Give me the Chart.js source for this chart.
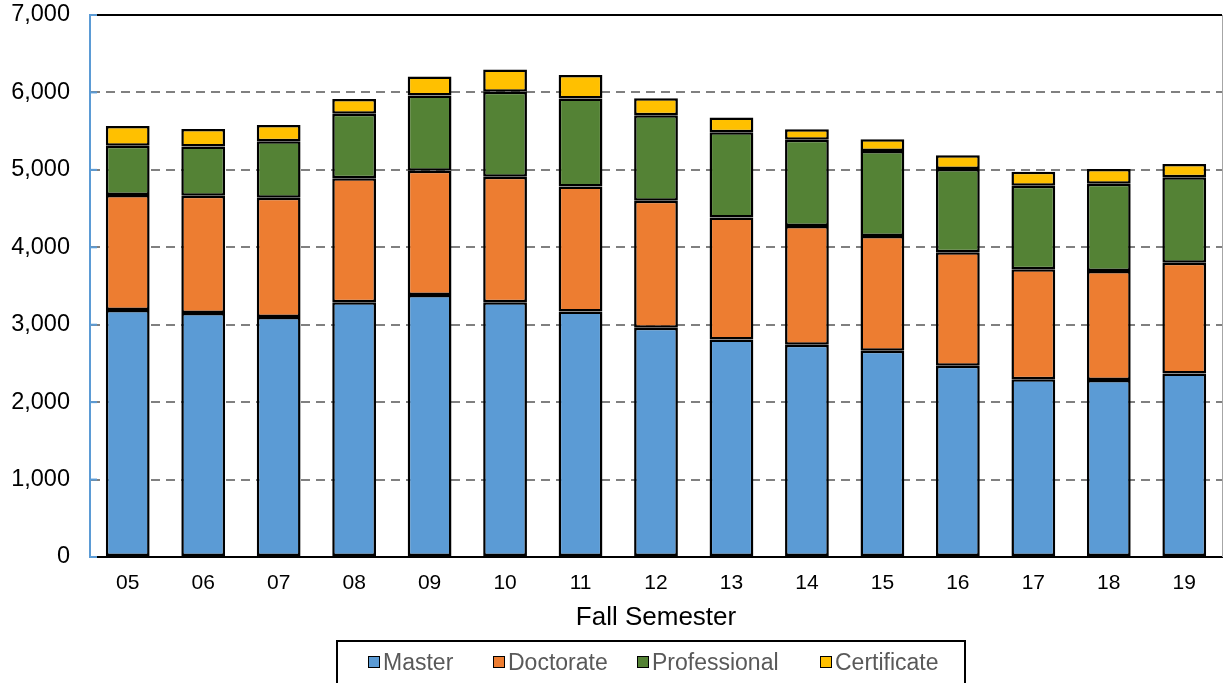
<!DOCTYPE html>
<html>
<head>
<meta charset="utf-8">
<script src="https://cdn.jsdelivr.net/npm/chart.js@4/dist/chart.umd.min.js"></script>
<style>
  html, body { margin: 0; padding: 0; background: #fff; }
  #wrap { position: relative; width: 1224px; height: 683px; overflow: hidden; }
  #c { position: absolute; left: 0; top: 0; }
  #legend {
    position: absolute; left: 336px; top: 640px; width: 630px; height: 60px;
    border: 2px solid #000; box-sizing: border-box;
    font-family: "Liberation Sans", Arial, sans-serif; font-size: 23px; color: #595959;
  }
  .item { position: absolute; top: 6px; display: flex; align-items: center; line-height: 28px; }
  .box { width: 10px; height: 10px; border: 1.5px solid #000; margin-right: 3px; }
</style>
</head>
<body>
<div id="wrap">
  <canvas id="c" width="1224" height="683"></canvas>
  <div id="legend"></div>
</div>
<script>
const categories = ["05","06","07","08","09","10","11","12","13","14","15","16","17","18","19"];
const master       = [3190,3150,3100,3290,3385,3290,3170,2960,2810,2740,2665,2470,2295,2285,2370];
const doctorate    = [1485,1515,1540,1600,1605,1620,1615,1640,1575,1535,1480,1465,1420,1410,1430];
const professional = [ 637, 637, 730, 835, 970,1100,1135,1105,1100,1115,1100,1075,1080,1125,1105];
const certificate  = [ 254, 225, 210, 190, 245, 285, 305, 220, 190, 135, 150, 180, 180, 190, 170];
const seriesNames  = ["Master","Doctorate","Professional","Certificate"];
const seriesColors = ["#5B9BD5","#ED7D31","#548235","#FFC000"];
const yTicks = [0,1000,2000,3000,4000,5000,6000,7000];

const FONT = "'Liberation Sans', Arial, sans-serif";

const datasets = [master, doctorate, professional, certificate].map((d, i) => ({
  label: seriesNames[i],
  data: d,
  backgroundColor: seriesColors[i],
  borderColor: "#000",
  borderWidth: 2.5,
  borderSkipped: false,
  categoryPercentage: 1.0,
  barPercentage: 0.58
}));

const framePlugin = {
  id: "frame",
  beforeDatasetsDraw(chart) {
    const {ctx, chartArea: a, scales} = chart;
    ctx.save();
    ctx.strokeStyle = "#000"; ctx.lineWidth = 2;
    ctx.beginPath(); ctx.moveTo(a.left, a.top); ctx.lineTo(a.right, a.top); ctx.stroke();
    ctx.strokeStyle = "#A6A6A6"; ctx.lineWidth = 1;
    ctx.beginPath(); ctx.moveTo(a.right + 0.5, a.top); ctx.lineTo(a.right + 0.5, a.bottom); ctx.stroke();
    ctx.strokeStyle = "#5B9BD5"; ctx.lineWidth = 2;
    yTicks.forEach(v => {
      const y = scales.y.getPixelForValue(v);
      ctx.beginPath(); ctx.moveTo(a.left, y); ctx.lineTo(a.left + 7, y); ctx.stroke();
    });
    ctx.restore();
  }
};

new Chart(document.getElementById("c"), {
  type: "bar",
  data: { labels: categories, datasets },
  plugins: [framePlugin],
  options: {
    responsive: false,
    animation: false,
    layout: { padding: { top: 15, right: 2, bottom: 50, left: 0 } },
    plugins: { legend: { display: false }, tooltip: { enabled: false } },
    scales: {
      x: {
        stacked: true,
        offset: true,
        grid: { display: false, drawTicks: false },
        border: { display: true, color: "#000", width: 2 },
        ticks: { color: "#000", font: { family: FONT, size: 21 }, padding: 14 },
        title: { display: true, text: "Fall Semester", color: "#000",
                 font: { family: FONT, size: 26 }, padding: { top: 0, bottom: 0 } },
        afterFit(s) { s.height = 76; s.paddingLeft = 0; s.paddingRight = 0; }
      },
      y: {
        stacked: true,
        min: 0, max: 7000,
        afterBuildTicks(s) { s.ticks = yTicks.map(v => ({ value: v })); },
        grid: { color: "#808080", lineWidth: 2, drawTicks: false },
        border: { display: true, color: "#5B9BD5", width: 2, dash: [9, 6] },
        ticks: {
          color: "#000", font: { family: FONT, size: 23.5 }, padding: 20,
          callback: v => v.toLocaleString("en-US")
        },
        afterFit(s) { s.width = 90; s.paddingTop = 0; s.paddingBottom = 0; }
      }
    }
  }
});

const leg = document.getElementById("legend");
const xs = [30, 155, 299, 482];
seriesNames.forEach((n, i) => {
  const it = document.createElement("div");
  it.className = "item";
  it.style.left = xs[i] + "px";
  it.innerHTML = '<div class="box" style="background:' + seriesColors[i] + '"></div><span>' + n + '</span>';
  leg.appendChild(it);
});
</script>
</body>
</html>
